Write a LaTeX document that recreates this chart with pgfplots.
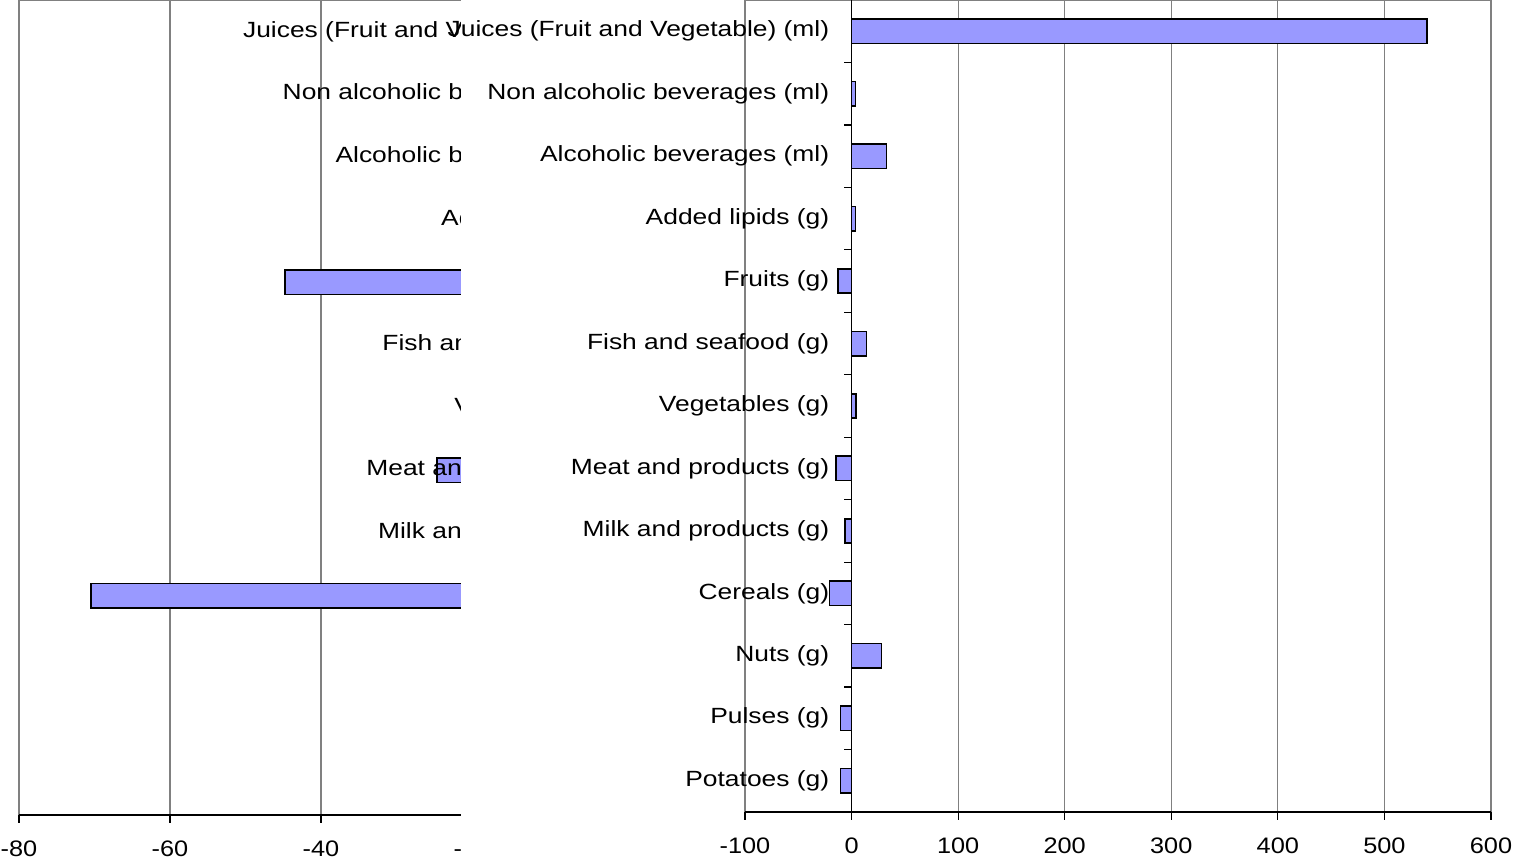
\documentclass[border=0pt]{standalone}
\usepackage{pgfplots}
\pgfplotsset{compat=1.18}
\usepackage{fontspec}
\setmainfont{Liberation Sans}
\newfontfamily\labfont{Liberation Sans}[FakeStretch=1.2]
\newfontfamily\tickfont{Liberation Sans}[FakeStretch=1.13]
\definecolor{barblue}{RGB}{153,153,255}
\definecolor{gridgray}{RGB}{128,128,128}
\pgfplotsset{
  common/.style={
    scale only axis,
    ymin=0.5, ymax=13.5, y dir=reverse,
    ytick=\empty,
    xmajorgrids, grid style={gridgray, line width=0.55pt},
    axis line style={draw=none},
    xtick pos=left, tick align=outside, major tick length=3.8pt,
    tick style={black, line width=0.6pt},
    /pgf/number format/assume math mode=true,
    xticklabel style={font=\tickfont\fontsize{11.2}{13}\selectfont, yshift=-5.8pt},
  },
  bars/.style={xbar, bar width=12.2pt, fill=barblue, draw=black, line width=0.8pt},
}
\tikzset{lab/.style={anchor=east, inner sep=0pt, font=\labfont\fontsize{11}{13}\selectfont}}
\begin{document}
\begin{tikzpicture}
\path[use as bounding box] (0,0) rectangle (764pt,432.5pt);
% ---------------- left chart (partly hidden) ----------------
\begin{axis}[common,
  at={(9.5pt,25pt)}, anchor=south west,
  width=377.5pt, height=407.5pt,
  xmin=-80, xmax=20, xtick={-80,-60,...,20},
  clip=false,
]
\addplot[bars] coordinates {(-44.8,5) (-24.6,8) (-70.5,10)};
\draw[gridgray, line width=0.55pt] (axis cs:-80,0.5) -- (axis cs:20,0.5);
\draw[black, line width=0.7pt] (axis cs:-80,13.5) -- (axis cs:20,13.5);
\node[lab] at (axis cs:0,1) [xshift=1pt] {Juices (Fruit and Vegetable) (ml)};
\node[lab] at (axis cs:0,2) [xshift=1pt] {Non alcoholic beverages (ml)};
\node[lab] at (axis cs:0,3) [xshift=1pt] {Alcoholic beverages (ml)};
\node[lab] at (axis cs:0,4) [xshift=1pt] {Added lipids (g)};
\node[lab] at (axis cs:0,5) [xshift=1pt] {Fruits (g)};
\node[lab] at (axis cs:0,6) [xshift=1pt] {Fish and seafood (g)};
\node[lab] at (axis cs:0,7) [xshift=1pt] {Vegetables (g)};
\node[lab] at (axis cs:0,8) [xshift=1pt] {Meat and products (g)};
\node[lab] at (axis cs:0,9) [xshift=1pt] {Milk and products (g)};
\node[lab] at (axis cs:0,10) [xshift=1pt] {Cereals (g)};
\node[lab] at (axis cs:0,11) [xshift=1pt] {Nuts (g)};
\node[lab] at (axis cs:0,12) [xshift=1pt] {Pulses (g)};
\node[lab] at (axis cs:0,13) [xshift=1pt] {Potatoes (g)};
\end{axis}
% ---------------- white sheet of the right chart ----------------
\fill[white] (230.5pt,0) rectangle (764pt,432.5pt);
% ---------------- right chart ----------------
\begin{axis}[common,
  at={(372.5pt,26.5pt)}, anchor=south west,
  width=373pt, height=406pt,
  xmin=-100, xmax=600, xtick={-100,0,...,600},
  clip=false,
]
\addplot[bars] coordinates {
 (540,1) (3.7,2) (32.6,3) (3.8,4) (-12.5,5) (14,6) (3.9,7)
 (-14.4,8) (-6.3,9) (-20.6,10) (28,11) (-10.3,12) (-10.3,13)};
\draw[gridgray, line width=0.55pt] (axis cs:-100,0.5) -- (axis cs:600,0.5);
\draw[black, line width=0.7pt] (axis cs:-100,13.5) -- (axis cs:600,13.5);
\draw[black, line width=0.6pt] (axis cs:0,0.5) -- (axis cs:0,13.5);
\pgfplotsinvokeforeach{1.5,2.5,...,12.5}{\draw[black, line width=0.6pt] (axis cs:0,#1) -- ([xshift=-4pt]axis cs:0,#1);}
\node[lab] at (axis cs:0,1) [xshift=-11pt] {Juices (Fruit and Vegetable) (ml)};
\node[lab] at (axis cs:0,2) [xshift=-11pt] {Non alcoholic beverages (ml)};
\node[lab] at (axis cs:0,3) [xshift=-11pt] {Alcoholic beverages (ml)};
\node[lab] at (axis cs:0,4) [xshift=-11pt] {Added lipids (g)};
\node[lab] at (axis cs:0,5) [xshift=-11pt] {Fruits (g)};
\node[lab] at (axis cs:0,6) [xshift=-11pt] {Fish and seafood (g)};
\node[lab] at (axis cs:0,7) [xshift=-11pt] {Vegetables (g)};
\node[lab] at (axis cs:0,8) [xshift=-11pt] {Meat and products (g)};
\node[lab] at (axis cs:0,9) [xshift=-11pt] {Milk and products (g)};
\node[lab] at (axis cs:0,10) [xshift=-11pt] {Cereals (g)};
\node[lab] at (axis cs:0,11) [xshift=-11pt] {Nuts (g)};
\node[lab] at (axis cs:0,12) [xshift=-11pt] {Pulses (g)};
\node[lab] at (axis cs:0,13) [xshift=-11pt] {Potatoes (g)};
\end{axis}
\end{tikzpicture}
\end{document}
